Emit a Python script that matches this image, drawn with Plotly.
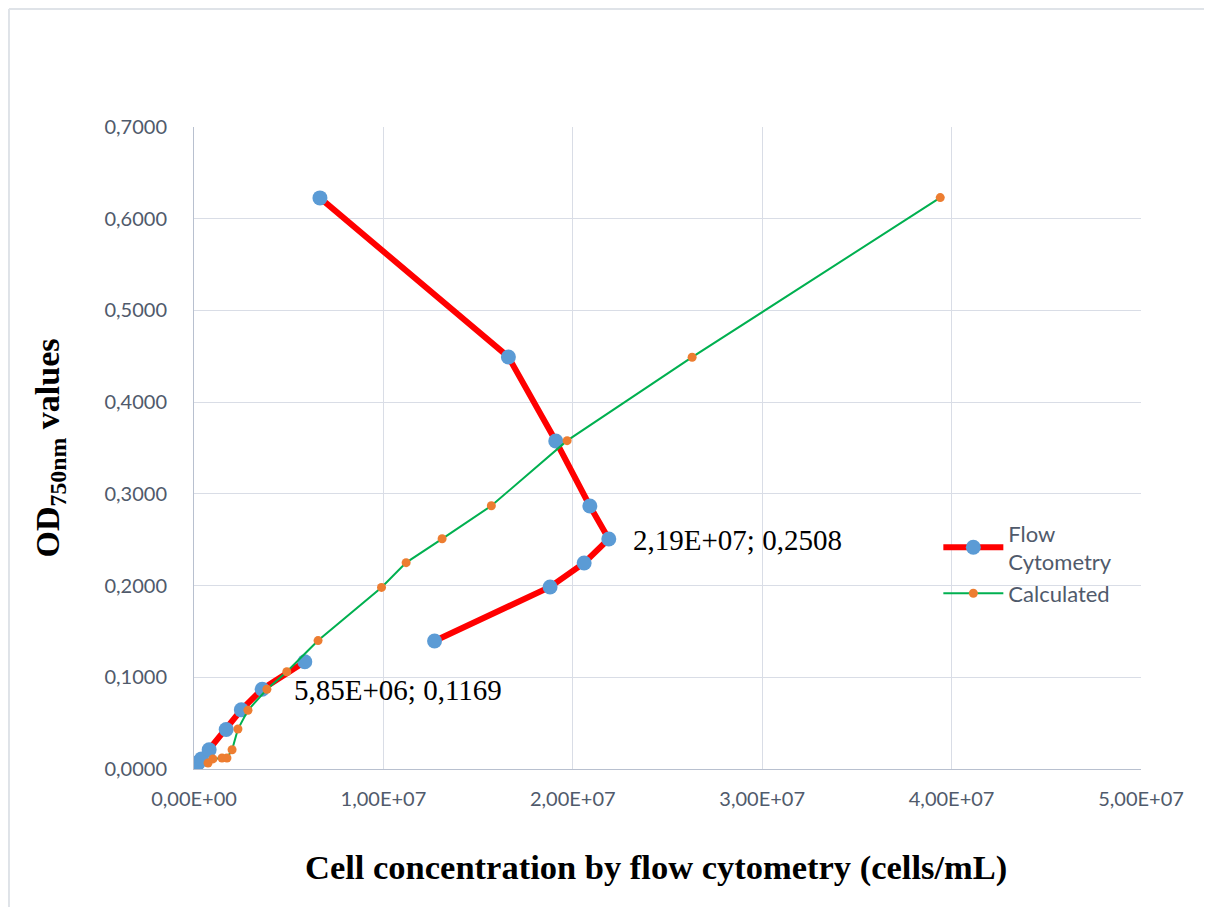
import plotly.graph_objects as go

# Flow cytometry series (cells/mL vs OD750)
flow_x = [0.15e6, 0.25e6, 0.40e6, 0.80e6, 1.70e6, 2.50e6, 3.60e6, 5.85e6, None,
          12.7e6, 18.8e6, 20.6e6, 21.9e6, 20.9e6, 19.1e6, 16.6e6, 6.65e6]
flow_y = [0.0050, 0.0075, 0.0110, 0.0210, 0.0430, 0.0645, 0.0870, 0.1169, None,
          0.1396, 0.1985, 0.2246, 0.2508, 0.2868, 0.3577, 0.4493, 0.6227]

# Calculated series
calc_x = [0.74e6, 1.00e6, 1.48e6, 1.74e6, 2.01e6, 2.32e6, 2.85e6, 3.85e6, 4.90e6,
          6.55e6, 9.90e6, 11.2e6, 13.1e6, 15.7e6, 19.7e6, 26.3e6, 39.4e6]
calc_y = [0.0065, 0.0110, 0.0120, 0.0120, 0.0210, 0.0436, 0.0640, 0.0870, 0.1060,
          0.1400, 0.1980, 0.2250, 0.2510, 0.2870, 0.3580, 0.4490, 0.6230]

x_tickvals = [0, 1e7, 2e7, 3e7, 4e7, 5e7]
x_ticktext = ["0,00E+00", "1,00E+07", "2,00E+07", "3,00E+07", "4,00E+07", "5,00E+07"]
y_tickvals = [0, 0.1, 0.2, 0.3, 0.4, 0.5, 0.6, 0.7]
y_ticktext = ["0,0000", "0,1000", "0,2000", "0,3000", "0,4000", "0,5000", "0,6000", "0,7000"]

labels = [
    (5.17e6, 0.0862, "5,85E+06; 0,1169"),
    (23.05e6, 0.2497, "2,19E+07; 0,2508"),
]

fig = go.Figure()
fig.add_trace(go.Scatter(
    x=flow_x, y=flow_y, mode="lines+markers", name="Flow<br>Cytometry",
    line=dict(color="#ff0000", width=6),
    marker=dict(color="#5b9bd5", size=15),
    connectgaps=False,
))
fig.add_trace(go.Scatter(
    x=calc_x, y=calc_y, mode="lines+markers", name="Calculated",
    line=dict(color="#00b050", width=2),
    marker=dict(color="#ed7d31", size=9),
))

for x, y, t in labels:
    fig.add_annotation(x=x, y=y, text=t, showarrow=False, xanchor="left", yanchor="middle",
                       font=dict(family="Liberation Serif", size=29, color="#000000"))

# x-axis title (placed as annotation, slightly left of plot centre as in the reference)
fig.add_annotation(x=0.488, y=-0.154, xref="paper", yref="paper", showarrow=False,
                   xanchor="center", yanchor="middle",
                   text="<b>Cell concentration by flow cytometry (cells/mL)</b>",
                   font=dict(family="Liberation Serif", size=34.5, color="#000000"))

axis_font = dict(family="Lato", size=20, color="#505a6b")

fig.update_layout(
    width=1212, height=908,
    margin=dict(l=186, r=79, t=119, b=147),
    paper_bgcolor="white", plot_bgcolor="white",
    xaxis=dict(
        range=[0, 5e7], tickvals=x_tickvals, ticktext=x_ticktext,
        showgrid=True, gridcolor="#d9dde6", gridwidth=1,
        showline=True, linecolor="#b8c0cf", linewidth=1,
        zeroline=False, ticks="", tickfont=axis_font, ticklabelstandoff=12,
    ),
    yaxis=dict(
        range=[0, 0.7], tickvals=y_tickvals, ticktext=y_ticktext,
        showgrid=True, gridcolor="#d9dde6", gridwidth=1,
        showline=True, linecolor="#b8c0cf", linewidth=1,
        zeroline=False, ticks="", tickfont=axis_font, ticklabelstandoff=22,
        title=dict(text="<b>OD<sub>750nm</sub> values</b>",
                   font=dict(family="Liberation Serif", size=34, color="#000000"),
                   standoff=34),
    ),
    legend=dict(x=0.786, y=0.40, xanchor="left", yanchor="top",
                font=dict(family="Lato", size=22, color="#505a6b"),
                bgcolor="rgba(0,0,0,0)", tracegroupgap=6, itemwidth=60),
    showlegend=True,
)

# chart-area border (top and left edges visible in the reference)
fig.add_shape(type="line", xref="paper", yref="paper",
              x0=-0.1954, x1=1.083, y0=1.1838, y1=1.1838,
              line=dict(color="#dfe3e8", width=2))
fig.add_shape(type="line", xref="paper", yref="paper",
              x0=-0.1954, x1=-0.1954, y0=-0.215, y1=1.1838,
              line=dict(color="#dfe3e8", width=2))

fig.write_html("out.html")
